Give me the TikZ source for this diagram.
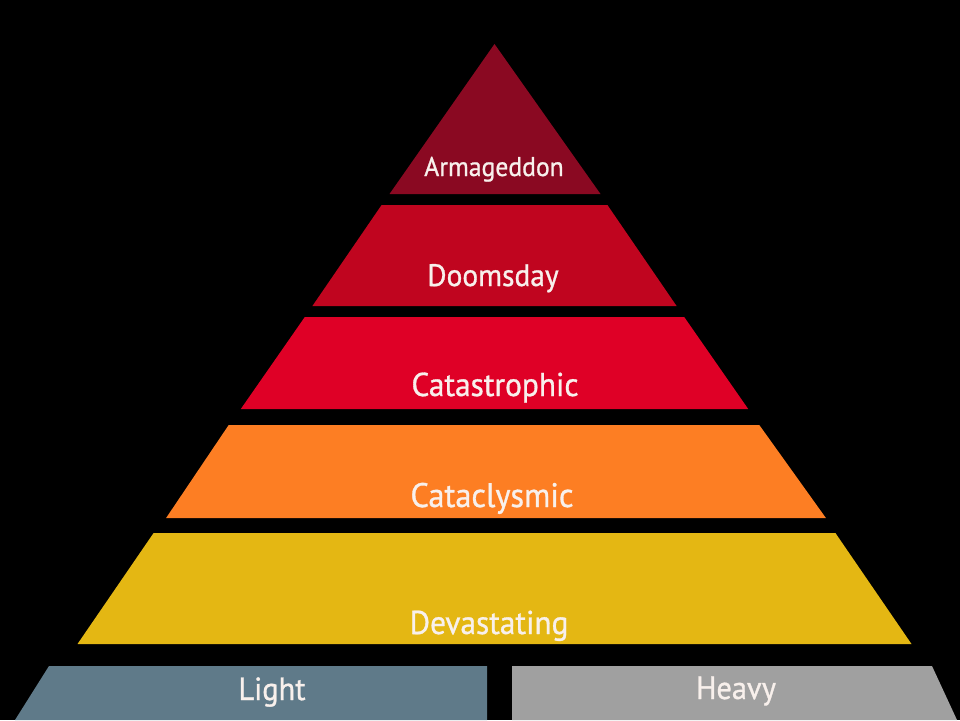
\documentclass[tikz,border=0pt]{standalone}
\usepackage{fontspec}
\setmainfont[FakeStretch=0.95,FakeBold=0.9]{PT Sans}
\definecolor{bgblack}{HTML}{000000}
\definecolor{cArm}{HTML}{8A0922}
\definecolor{cDoom}{HTML}{C0051F}
\definecolor{cCatas}{HTML}{DF0026}
\definecolor{cClys}{HTML}{FD7E23}
\definecolor{cDev}{HTML}{E4B713}
\definecolor{cLight}{HTML}{5F7A89}
\definecolor{cHeavy}{HTML}{A0A0A0}
\definecolor{txt}{HTML}{F8F0EC}
\tikzset{
  lbl/.style={text=txt, anchor=base, inner sep=0pt},
}
\begin{document}
\begin{tikzpicture}[x=1pt,y=-1pt]
\fill[bgblack] (0,0) rectangle (960,720);
\useasboundingbox (0,0) rectangle (960,720);
% layers
\fill[cArm] (494.5,44) -- (600.5,194) -- (389.5,194) -- cycle;
\fill[cDoom] (381.6,205) -- (607.4,205) -- (676.6,306) -- (312.4,306) -- cycle;
\fill[cCatas] (304.8,317) -- (684.2,317) -- (748.2,409) -- (240.8,409) -- cycle;
\fill[cClys] (228.7,425) -- (759.3,425) -- (825.9,518) -- (166.1,518) -- cycle;
\fill[cDev] (153.6,533) -- (835.4,533) -- (911.5,644) -- (77.5,644) -- cycle;
\fill[cLight] (49,666) -- (487,666) -- (487,720) -- (15,720) -- cycle;
\fill[cHeavy] (512,666) -- (932,666) -- (957,720) -- (512,720) -- cycle;
% labels
\node[lbl, font=\fontsize{27}{29}\selectfont] (arm) at (494,176) {Armageddon};
\node[lbl, font=\fontsize{31}{33}\selectfont] (doom) at (493,286) {Doomsday};
\node[lbl, font=\fontsize{33}{35}\selectfont] (catas) at (495,396) {Catastrophic};
\node[lbl, font=\fontsize{34}{36}\selectfont] (clys) at (492,507) {Cataclysmic};
\node[lbl, font=\fontsize{33}{35}\selectfont] (dev) at (489,634) {Devastating};
\node[lbl, font=\fontsize{32}{34}\selectfont] (light) at (272,700) {Light};
\node[lbl, font=\fontsize{32}{34}\selectfont] (heavy) at (736,699) {Heavy};
\end{tikzpicture}
\end{document}
